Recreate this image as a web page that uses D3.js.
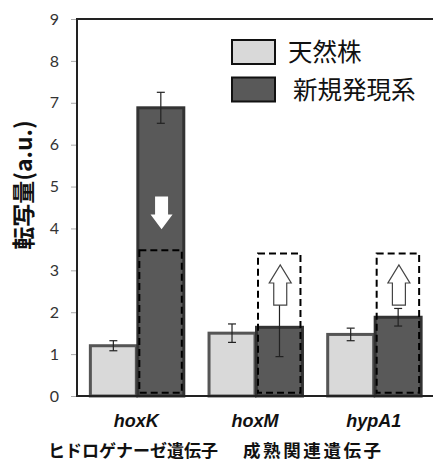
<!DOCTYPE html>
<html lang="ja">
<head>
<meta charset="utf-8">
<title>転写量</title>
<script src="https://cdn.jsdelivr.net/npm/d3@7"></script>
<style>
  body { margin: 0; background: #fff; }
  svg { display: block; }
  .tick text { font-family: Lato, "Open Sans", sans-serif; font-size: 16px; fill: #333; }
</style>
</head>
<body>
<svg id="chart"></svg>
<script>
// data
var genes = ["hoxK", "hoxM", "hypA1"];
var wild = [1.2, 1.5, 1.47];
var wildErr = [0.12, 0.22, 0.15];
var novel = [6.88, 1.64, 1.88];
var novelErr = [0.37, 0.7, 0.21];
var boxTop = [3.48, 3.4, 3.4];
var boxBottom = [0.08, 0.08, 0.08];
var arrowDir = ["down", "up", "up"];
var arrowFrom = [4.76, 2.17, 2.17];
var arrowTo = [3.98, 3.13, 3.13];
var yTicks = [0, 1, 2, 3, 4, 5, 6, 7, 8, 9];
var seriesNames = ["天然株", "新規発現系"];
var groupLabels = ["ヒドロゲナーゼ遺伝子", "成熟関連遺伝子"];

var W = 433, H = 461;
var x0 = 77, x1 = 433, yTop = 19, yBot = 396;

var svg = d3.select("#chart").attr("width", W).attr("height", H);

var y = d3.scaleLinear().domain([0, 9]).range([yBot, yTop]);
var xg = d3.scaleBand().domain(genes).range([x0, x1]).paddingInner(0.2).paddingOuter(0.1);
var xs = d3.scaleBand().domain([0, 1]).range([0, xg.bandwidth()]);

// top frame line
svg.append("line").attr("x1", x0).attr("x2", x1).attr("y1", yTop).attr("y2", yTop)
  .attr("stroke", "#222").attr("stroke-width", 2);

// y axis
var yAxis = svg.append("g").attr("transform", "translate(" + x0 + ",0)")
  .call(d3.axisLeft(y).tickValues(yTicks).tickSize(6).tickPadding(12));
yAxis.select(".domain").remove();
yAxis.selectAll(".tick line").attr("stroke", "#aaa");
svg.append("line").attr("x1", x0).attr("x2", x0).attr("y1", yTop - 1).attr("y2", yBot + 1)
  .attr("stroke", "#222").attr("stroke-width", 2);

// bars
var g = svg.append("g");
genes.forEach(function (gene, i) {
  var bx = xg(gene);
  var vals = [wild[i], novel[i]];
  var errs = [wildErr[i], novelErr[i]];
  vals.forEach(function (v, s) {
    var lx = bx + xs(s);
    g.append("rect")
      .attr("x", lx + 1.5).attr("y", y(v))
      .attr("width", xs.bandwidth() - 1.5).attr("height", yBot - y(v))
      .attr("fill", s === 0 ? "#d9d9d9" : "#595959")
      .attr("stroke", s === 0 ? "#555" : "#333")
      .attr("stroke-width", 3);
  });
  // dashed box
  var dx = bx + xs(1);
  g.append("rect")
    .attr("x", dx + 3).attr("y", y(boxTop[i]))
    .attr("width", xs.bandwidth() - 5).attr("height", y(boxBottom[i]) - y(boxTop[i]))
    .attr("fill", "none").attr("stroke", "#000").attr("stroke-width", 2)
    .attr("stroke-dasharray", "7,4");
  // error bars
  vals.forEach(function (v, s) {
    var cx = bx + xs(s) + xs.bandwidth() / 2 + 0.75;
    var e = errs[s];
    g.append("line").attr("x1", cx).attr("x2", cx).attr("y1", y(v + e)).attr("y2", y(v - e))
      .attr("stroke", "#222").attr("stroke-width", 1.2);
    [v + e, v - e].forEach(function (t) {
      g.append("line").attr("x1", cx - 4).attr("x2", cx + 4).attr("y1", y(t)).attr("y2", y(t))
        .attr("stroke", "#222").attr("stroke-width", 1.2);
    });
  });
  // arrows
  var ax = dx + xs.bandwidth() / 2 + 1.5;
  var ya = y(arrowFrom[i]), yb = y(arrowTo[i]);
  var len = yb - ya; // positive down
  var head = len * 0.45, sw = 6.5, hw = 11;
  var hy = yb - Math.sign(len) * Math.abs(head);
  var pts = [[ax - sw, ya], [ax + sw, ya], [ax + sw, hy], [ax + hw, hy], [ax, yb], [ax - hw, hy], [ax - sw, hy]];
  g.append("path").attr("d", d3.line()(pts) + "Z")
    .attr("fill", "#fff")
    .attr("stroke", arrowDir[i] === "up" ? "#444" : "none")
    .attr("stroke-width", 1.2);
});

// baseline
svg.append("line").attr("x1", x0).attr("x2", x1).attr("y1", yBot).attr("y2", yBot)
  .attr("stroke", "#222").attr("stroke-width", 2);

// x labels
svg.selectAll(".gl").data(genes).enter().append("text")
  .attr("x", function (d) { return xg(d) + xg.bandwidth() / 2; })
  .attr("y", 427)
  .attr("text-anchor", "middle")
  .style("font-family", "'Liberation Sans', Arial, sans-serif")
  .style("font-size", "18px").style("font-weight", "bold").style("font-style", "italic")
  .attr("fill", "#111")
  .text(function (d) { return d; });

// group labels
svg.append("text").attr("x", 133).attr("y", 457).attr("text-anchor", "middle")
  .style("font-family", "'Noto Sans CJK JP', sans-serif").style("font-size", "17px")
  .style("font-weight", "bold").attr("fill", "#111").text(groupLabels[0]);
svg.append("text").attr("x", 243).attr("y", 457)
  .style("font-family", "'Noto Sans CJK JP', sans-serif").style("font-size", "17.5px")
  .style("letter-spacing", "2.6px")
  .style("font-weight", "bold").attr("fill", "#111").text(groupLabels[1]);

// y title
svg.append("text")
  .attr("transform", "translate(32,185) rotate(-90)")
  .attr("text-anchor", "middle")
  .style("font-family", "'Noto Sans CJK JP', sans-serif").style("font-size", "23px")
  .style("font-weight", "bold").attr("fill", "#111")
  .text("転写量(a.u.)");

// legend
var legend = svg.append("g");
var legY = [40, 77.5];
var legTx = [288, 293];
seriesNames.forEach(function (name, s) {
  legend.append("rect").attr("x", 232).attr("y", legY[s]).attr("width", 43).attr("height", 24)
    .attr("fill", s === 0 ? "#d9d9d9" : "#595959").attr("stroke", "#111").attr("stroke-width", 2);
  legend.append("text").attr("x", legTx[s]).attr("y", legY[s] + 21)
    .style("font-family", "'Noto Sans CJK JP', sans-serif").style("font-size", "24.5px")
    .attr("fill", "#111").text(name);
});
</script>
</body>
</html>
